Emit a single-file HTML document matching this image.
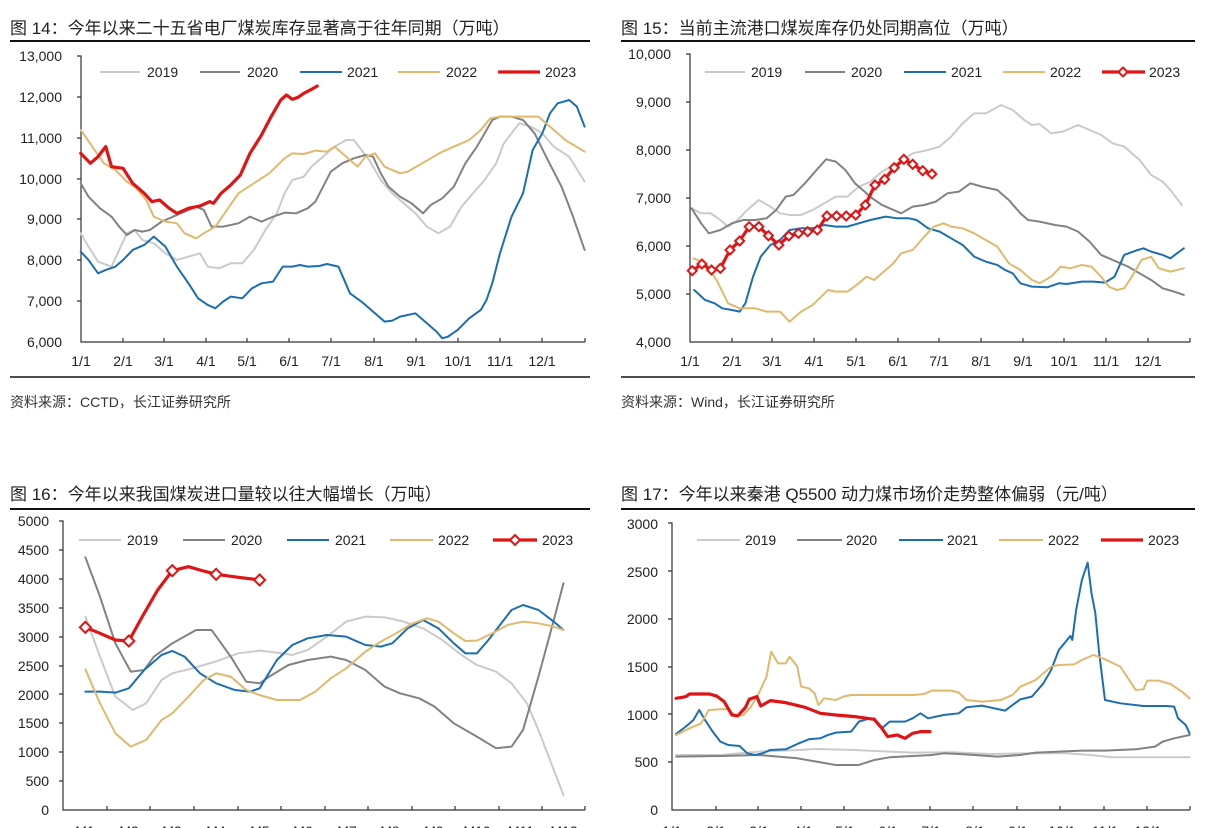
<!DOCTYPE html>
<html><head><meta charset="utf-8"><style>
body{margin:0;background:#fff;width:1210px;height:828px;overflow:hidden}
svg{display:block}
text{font-family:"Liberation Sans","Noto Sans CJK SC",sans-serif;fill:#222}
.t{font-size:17px}
.s{font-size:14px;fill:#333}
.l{font-size:14px}
.ax{stroke:#333;stroke-width:1.2;fill:none}
polyline{fill:none;stroke-linejoin:round;stroke-linecap:round}
.c19{stroke:#cacaca;stroke-width:2}
.c20{stroke:#828282;stroke-width:2}
.c21{stroke:#1b6fb0;stroke-width:2}
.c22{stroke:#e0b96c;stroke-width:2}
.c23{stroke:#e01414;stroke-width:3.2}
.g polyline{vector-effect:non-scaling-stroke}
</style></head><body>
<svg id="s" width="1210" height="828" xmlns="http://www.w3.org/2000/svg">
<!-- Panel 1 -->
<text class="t" x="10" y="34">图  14：今年以来二十五省电厂煤炭库存显著高于往年同期（万吨）</text>
<line x1="10" y1="41" x2="590" y2="41" stroke="#111" stroke-width="2"/>
<line x1="10" y1="377" x2="590" y2="377" stroke="#111" stroke-width="1.5"/>
<text class="s" x="10" y="407">资料来源：CCTD，长江证券研究所</text>
<g class="l" text-anchor="end">
<text x="62" y="61">13,000</text><text x="62" y="102">12,000</text><text x="62" y="143">11,000</text><text x="62" y="184">10,000</text><text x="62" y="224">9,000</text><text x="62" y="265">8,000</text><text x="62" y="306">7,000</text><text x="62" y="347">6,000</text>
</g>
<g class="l" text-anchor="middle">
<text x="81" y="366">1/1</text><text x="123" y="366">2/1</text><text x="164" y="366">3/1</text><text x="206" y="366">4/1</text><text x="247" y="366">5/1</text><text x="289" y="366">6/1</text><text x="331" y="366">7/1</text><text x="374" y="366">8/1</text><text x="416" y="366">9/1</text><text x="458" y="366">10/1</text><text x="500" y="366">11/1</text><text x="542" y="366">12/1</text>
</g>
<path class="ax" d="M77 56H81V342H585M77 97H81M77 138H81M77 179H81M77 219H81M77 260H81M77 301H81M123 342V338M164 342V338M206 342V338M247 342V338M289 342V338M331 342V338M374 342V338M416 342V338M458 342V338M500 342V338M542 342V338M585 342V338"/>
<g class="g" transform="scale(0.3846,0.3333)">
<polyline class="c19" points="210,700 230,740 255,785 290,800 310,750 330,700 350,690 370,720 400,730 430,760 460,780 490,770 520,760 540,800 570,805 600,790 630,790 660,750 690,690 720,640 740,580 760,540 790,530 810,500 840,470 870,440 900,420 920,420 940,450 960,480 990,540 1020,580 1050,610 1080,640 1110,680 1140,700 1170,680 1200,620 1230,580 1260,540 1290,490 1310,430 1330,400 1350,370 1380,380 1410,400 1440,440 1480,470 1520,545"/>
<polyline class="c20" points="210,550 230,590 260,625 290,650 310,680 330,705 350,690 370,695 390,690 420,665 450,650 480,635 510,620 530,630 550,680 580,680 620,670 650,650 680,665 710,650 740,638 770,640 800,625 820,605 840,560 860,515 890,490 920,475 950,465 970,470 990,520 1010,560 1040,590 1070,610 1100,640 1120,615 1150,595 1180,560 1210,490 1240,440 1260,400 1280,360 1300,350 1330,350 1360,360 1390,400 1420,470 1460,560 1490,650 1520,750"/>
<polyline class="c21" points="210,755 230,780 255,820 275,810 300,800 320,780 345,750 375,735 400,710 430,740 460,800 490,850 515,895 540,915 560,925 580,905 600,890 630,895 655,865 680,850 710,845 735,800 760,800 780,795 800,800 830,798 850,792 880,800 910,880 940,905 970,935 1000,965 1020,962 1040,950 1060,945 1080,940 1095,955 1120,980 1135,995 1150,1015 1165,1010 1190,990 1220,955 1250,930 1265,900 1280,850 1300,760 1330,650 1360,580 1385,450 1410,400 1430,340 1450,310 1480,300 1500,320 1520,380"/>
<polyline class="c22" points="210,390 240,440 270,490 300,510 330,545 355,565 380,600 400,650 430,665 460,670 480,700 510,715 530,700 560,680 590,630 620,580 660,550 700,520 740,475 760,460 790,462 820,452 850,455 870,440 900,470 930,500 950,470 975,460 1000,500 1040,520 1060,515 1090,495 1120,475 1150,455 1180,440 1220,420 1250,390 1275,355 1300,350 1340,350 1400,350 1430,380 1470,420 1520,455"/>
<polyline class="c23" points="210,460 235,490 255,470 275,440 290,500 320,505 345,550 375,580 395,605 415,600 440,625 460,640 490,625 520,618 545,605 555,610 575,580 600,555 625,525 650,460 680,405 705,350 730,300 745,285 760,298 775,292 790,280 810,268 825,258"/>
</g>
<!-- Panel 2 -->
<text class="t" x="621" y="34">图  15：当前主流港口煤炭库存仍处同期高位（万吨）</text>
<line x1="621" y1="41" x2="1195" y2="41" stroke="#111" stroke-width="2"/>
<line x1="621" y1="377" x2="1195" y2="377" stroke="#111" stroke-width="1.5"/>
<text class="s" x="621" y="407">资料来源：Wind，长江证券研究所</text>
<g class="l" text-anchor="end">
<text x="671" y="59">10,000</text><text x="671" y="107">9,000</text><text x="671" y="155">8,000</text><text x="671" y="203">7,000</text><text x="671" y="251">6,000</text><text x="671" y="299">5,000</text><text x="671" y="347">4,000</text>
</g>
<g class="l" text-anchor="middle">
<text x="690" y="366">1/1</text><text x="732" y="366">2/1</text><text x="772" y="366">3/1</text><text x="814" y="366">4/1</text><text x="856" y="366">5/1</text><text x="898" y="366">6/1</text><text x="939" y="366">7/1</text><text x="981" y="366">8/1</text><text x="1023" y="366">9/1</text><text x="1064" y="366">10/1</text><text x="1106" y="366">11/1</text><text x="1148" y="366">12/1</text>
</g>
<path class="ax" d="M686 54H690V342H1190M686 102H690M686 150H690M686 198H690M686 246H690M686 294H690M732 342V338M772 342V338M814 342V338M856 342V338M898 342V338M939 342V338M981 342V338M1023 342V338M1064 342V338M1106 342V338M1148 342V338M1190 342V338"/>
<g class="g" transform="translate(605,0) scale(0.3846,0.3333)">
<polyline class="c19" points="225,625 250,640 275,640 300,660 320,680 345,660 370,630 400,600 430,620 455,640 480,645 510,645 540,630 570,610 600,590 630,590 660,560 690,545 720,515 760,490 800,460 840,450 870,440 900,410 930,370 960,340 990,340 1030,315 1060,330 1090,360 1110,375 1130,372 1160,400 1190,395 1230,375 1260,390 1290,405 1320,430 1350,440 1390,480 1420,525 1450,545 1470,570 1500,615"/>
<polyline class="c20" points="225,625 250,670 270,700 300,690 330,670 360,660 390,660 420,655 445,630 470,590 490,585 520,550 550,510 575,478 600,485 625,510 650,550 670,570 695,595 720,615 750,630 770,640 800,620 830,615 860,605 890,580 920,575 950,550 980,560 1020,570 1050,600 1080,640 1100,660 1130,665 1170,675 1200,680 1230,695 1260,725 1290,765 1320,780 1360,800 1390,820 1420,840 1450,865 1480,875 1505,885"/>
<polyline class="c21" points="232,870 260,900 285,910 305,925 330,930 350,935 365,910 385,830 405,770 430,735 455,720 480,690 510,685 540,685 570,675 600,680 630,680 660,670 690,660 730,650 760,655 790,655 810,660 840,685 870,695 900,715 930,735 960,770 990,785 1020,795 1040,810 1060,820 1080,850 1110,860 1150,862 1180,850 1200,852 1240,845 1270,845 1300,848 1325,830 1350,765 1380,752 1400,745 1420,755 1450,765 1470,775 1505,745"/>
<polyline class="c22" points="230,775 260,790 290,840 320,910 350,925 390,925 420,935 455,935 480,965 510,935 540,915 580,870 600,875 630,875 660,850 680,830 700,840 720,820 750,790 770,760 800,750 830,710 855,680 880,670 900,680 930,685 960,700 990,720 1020,740 1050,790 1080,810 1110,840 1130,850 1160,830 1185,800 1210,805 1240,795 1265,800 1290,830 1310,860 1330,870 1350,865 1370,830 1395,780 1420,770 1440,805 1470,815 1505,805"/>
<polyline id="r2" class="c23" points="227,812 252,792 277,810 300,805 325,750 350,723 375,680 400,680 425,707 452,735 478,708 503,700 527,695 552,690 577,648 602,648 627,648 652,645 677,615 702,555 727,538 752,503 777,478 800,493 826,512 850,522"/>
</g>
<!-- Panel 3 -->
<text class="t" x="10" y="500">图  16：今年以来我国煤炭进口量较以往大幅增长（万吨）</text>
<line x1="10" y1="509" x2="590" y2="509" stroke="#111" stroke-width="2"/>
<g class="l" text-anchor="end">
<text x="49" y="526">5000</text><text x="49" y="555">4500</text><text x="49" y="584">4000</text><text x="49" y="613">3500</text><text x="49" y="642">3000</text><text x="49" y="671">2500</text><text x="49" y="700">2000</text><text x="49" y="728">1500</text><text x="49" y="757">1000</text><text x="49" y="786">500</text><text x="49" y="815">0</text>
</g>
<g class="l" text-anchor="middle">
<text x="85" y="836">M1</text><text x="129" y="836">M2</text><text x="172" y="836">M3</text><text x="216" y="836">M4</text><text x="260" y="836">M5</text><text x="303" y="836">M6</text><text x="347" y="836">M7</text><text x="390" y="836">M8</text><text x="434" y="836">M9</text><text x="477" y="836">M10</text><text x="521" y="836">M11</text><text x="564" y="836">M12</text>
</g>
<path class="ax" d="M59 521H63V810H585M59 550H63M59 579H63M59 608H63M59 637H63M59 666H63M59 694H63M59 723H63M59 752H63M59 781H63M107 810V806M150 810V806M194 810V806M238 810V806M281 810V806M325 810V806M368 810V806M412 810V806M455 810V806M499 810V806M542 810V806M585 810V806"/>
<g class="g" transform="translate(0,470) scale(0.3846,0.3333)">
<polyline class="c19" points="222,440 260,560 300,680 345,720 380,700 420,630 448,610 500,595 560,575 620,550 675,542 720,548 760,555 800,540 850,500 900,455 950,440 1000,442 1050,455 1100,475 1150,510 1200,555 1240,585 1290,605 1330,640 1370,700 1400,780 1430,870 1465,975"/>
<polyline class="c20" points="222,262 260,380 300,520 340,605 375,600 400,560 448,520 510,480 550,480 600,560 640,635 675,640 700,620 750,585 800,570 860,560 900,570 950,600 1000,650 1040,670 1090,685 1130,710 1180,760 1240,800 1290,835 1330,830 1360,780 1400,620 1440,450 1465,340"/>
<polyline class="c21" points="222,665 260,665 300,668 335,655 375,600 420,555 448,543 480,560 520,610 562,640 610,660 650,665 675,655 720,570 760,525 800,505 850,495 900,500 950,525 990,530 1020,520 1060,475 1100,450 1140,475 1180,520 1210,550 1240,550 1270,510 1300,465 1330,420 1360,405 1400,420 1440,455 1465,480"/>
<polyline class="c22" points="222,598 260,700 300,790 340,830 380,810 420,750 448,730 490,680 530,630 562,610 600,620 640,660 675,675 720,690 780,690 820,665 860,625 900,595 950,545 990,515 1030,490 1070,462 1110,445 1140,455 1180,490 1210,513 1240,512 1280,490 1320,465 1360,455 1400,460 1440,470 1465,480"/>
<polyline class="c23" points="222,472 260,490 300,510 335,513 370,440 410,360 448,302 490,290 520,300 562,313 620,322 675,330"/>
</g>
<!-- Panel 4 -->
<text class="t" x="621" y="500">图  17：今年以来秦港 Q5500 动力煤市场价走势整体偏弱（元/吨）</text>
<line x1="621" y1="509" x2="1195" y2="509" stroke="#111" stroke-width="2"/>
<g class="l" text-anchor="end">
<text x="658" y="529">3000</text><text x="658" y="577">2500</text><text x="658" y="624">2000</text><text x="658" y="672">1500</text><text x="658" y="720">1000</text><text x="658" y="767">500</text><text x="658" y="815">0</text>
</g>
<g class="l" text-anchor="middle">
<text x="672" y="836">1/1</text><text x="716" y="836">2/1</text><text x="759" y="836">3/1</text><text x="803" y="836">4/1</text><text x="845" y="836">5/1</text><text x="888" y="836">6/1</text><text x="931" y="836">7/1</text><text x="975" y="836">8/1</text><text x="1018" y="836">9/1</text><text x="1062" y="836">10/1</text><text x="1105" y="836">11/1</text><text x="1148" y="836">12/1</text>
</g>
<path class="ax" d="M668 523H672V810H1190M668 571H672M668 619H672M668 667H672M668 714H672M668 762H672M716 810V806M758 810V806M801 810V806M844 810V806M888 810V806M930 810V806M973 810V806M1017 810V806M1060 810V806M1104 810V806M1147 810V806M1190 810V806"/>
<g class="g" transform="translate(605,470) scale(0.3846,0.3333)">
<polyline class="c19" points="185,855 300,855 400,845 500,840 550,837 650,840 740,845 800,848 900,847 1000,852 1100,850 1200,850 1260,855 1320,862 1400,862 1520,862"/>
<polyline class="c20" points="185,860 300,858 400,855 450,860 500,865 550,875 600,885 660,885 700,870 740,862 800,858 850,855 880,850 920,852 960,855 1020,860 1080,855 1120,848 1180,845 1240,842 1300,842 1380,838 1430,830 1450,815 1480,805 1520,795"/>
<polyline class="c21" points="185,792 210,770 230,750 245,720 260,750 280,785 300,815 320,825 350,828 370,850 390,855 410,850 430,840 470,838 500,822 530,808 560,805 580,795 600,788 640,785 660,755 680,748 700,745 720,775 740,755 780,755 800,745 820,730 840,745 880,735 920,730 940,712 980,707 1000,712 1040,722 1060,705 1080,688 1110,680 1140,640 1160,600 1180,540 1210,498 1215,510 1225,420 1240,330 1255,278 1265,370 1275,430 1285,550 1300,690 1340,700 1400,708 1460,708 1480,710 1490,745 1510,765 1520,790"/>
<polyline class="c22" points="185,795 220,775 250,760 270,720 300,718 320,718 340,738 360,735 380,710 400,670 420,620 432,545 450,580 470,580 480,560 500,590 510,650 530,655 545,670 555,705 570,685 600,690 620,680 640,675 700,675 800,675 830,672 850,662 900,662 920,668 940,690 980,695 1030,690 1060,675 1080,650 1120,630 1160,590 1180,585 1220,583 1240,570 1270,555 1300,568 1340,590 1360,625 1380,660 1400,658 1410,632 1440,632 1470,642 1500,665 1520,685"/>
<polyline class="c23" points="185,685 210,680 220,672 270,672 290,678 310,695 330,735 345,738 365,713 375,688 395,680 405,708 430,692 470,698 520,712 560,730 600,735 650,740 700,748 720,775 735,800 760,795 780,805 800,790 820,785 845,785"/>
</g>
<!-- Legends -->
<g class="l">
<line x1="100" y1="72" x2="140" y2="72" class="c19"/><text x="147" y="77">2019</text>
<line x1="200" y1="72" x2="240" y2="72" class="c20"/><text x="247" y="77">2020</text>
<line x1="300" y1="72" x2="342" y2="72" class="c21"/><text x="347" y="77">2021</text>
<line x1="398" y1="72" x2="440" y2="72" class="c22"/><text x="446" y="77">2022</text>
<line x1="498" y1="72" x2="540" y2="72" class="c23"/><text x="545" y="77">2023</text>

<line x1="705" y1="72" x2="745" y2="72" class="c19"/><text x="751" y="77">2019</text>
<line x1="805" y1="72" x2="845" y2="72" class="c20"/><text x="851" y="77">2020</text>
<line x1="904" y1="72" x2="946" y2="72" class="c21"/><text x="951" y="77">2021</text>
<line x1="1003" y1="72" x2="1045" y2="72" class="c22"/><text x="1050" y="77">2022</text>
<line x1="1102" y1="72" x2="1145" y2="72" class="c23"/><text x="1149" y="77">2023</text>

<line x1="79" y1="540" x2="121" y2="540" class="c19"/><text x="127" y="545">2019</text>
<line x1="183" y1="540" x2="225" y2="540" class="c20"/><text x="231" y="545">2020</text>
<line x1="287" y1="540" x2="329" y2="540" class="c21"/><text x="335" y="545">2021</text>
<line x1="390" y1="540" x2="433" y2="540" class="c22"/><text x="438" y="545">2022</text>
<line x1="493" y1="540" x2="537" y2="540" class="c23"/><text x="542" y="545">2023</text>

<line x1="697" y1="540" x2="740" y2="540" class="c19"/><text x="745" y="545">2019</text>
<line x1="797" y1="540" x2="842" y2="540" class="c20"/><text x="846" y="545">2020</text>
<line x1="899" y1="540" x2="943" y2="540" class="c21"/><text x="947" y="545">2021</text>
<line x1="999" y1="540" x2="1043" y2="540" class="c22"/><text x="1048" y="545">2022</text>
<line x1="1101" y1="540" x2="1143" y2="540" class="c23"/><text x="1148" y="545">2023</text>
</g>
<g id="dm" fill="#fff" stroke="#e01414" stroke-width="2"></g>
</svg>
<script>
(function(){
var g=document.getElementById('dm');
function d(x,y,r){var p=document.createElementNS('http://www.w3.org/2000/svg','path');
p.setAttribute('d','M'+x+' '+(y-r)+'L'+(x+r)+' '+y+'L'+x+' '+(y+r)+'L'+(x-r)+' '+y+'Z');g.appendChild(p);}
var p2="227,812 252,792 277,810 300,805 325,750 350,723 375,680 400,680 425,707 452,735 478,708 503,700 527,695 552,690 577,648 602,648 627,648 652,645 677,615 702,555 727,538 752,503 777,478 800,493 826,512 850,522".split(' ');
p2.forEach(function(s){var a=s.split(',');d(605+a[0]/2.6,a[1]/3,4.5);});
[[222,472],[335,513],[448,302],[562,313],[675,330]].forEach(function(a){d(a[0]/2.6,470+a[1]/3,5.5);});
d(1123,72,4.5);d(515,540,5);
})();
</script>
</body></html>
